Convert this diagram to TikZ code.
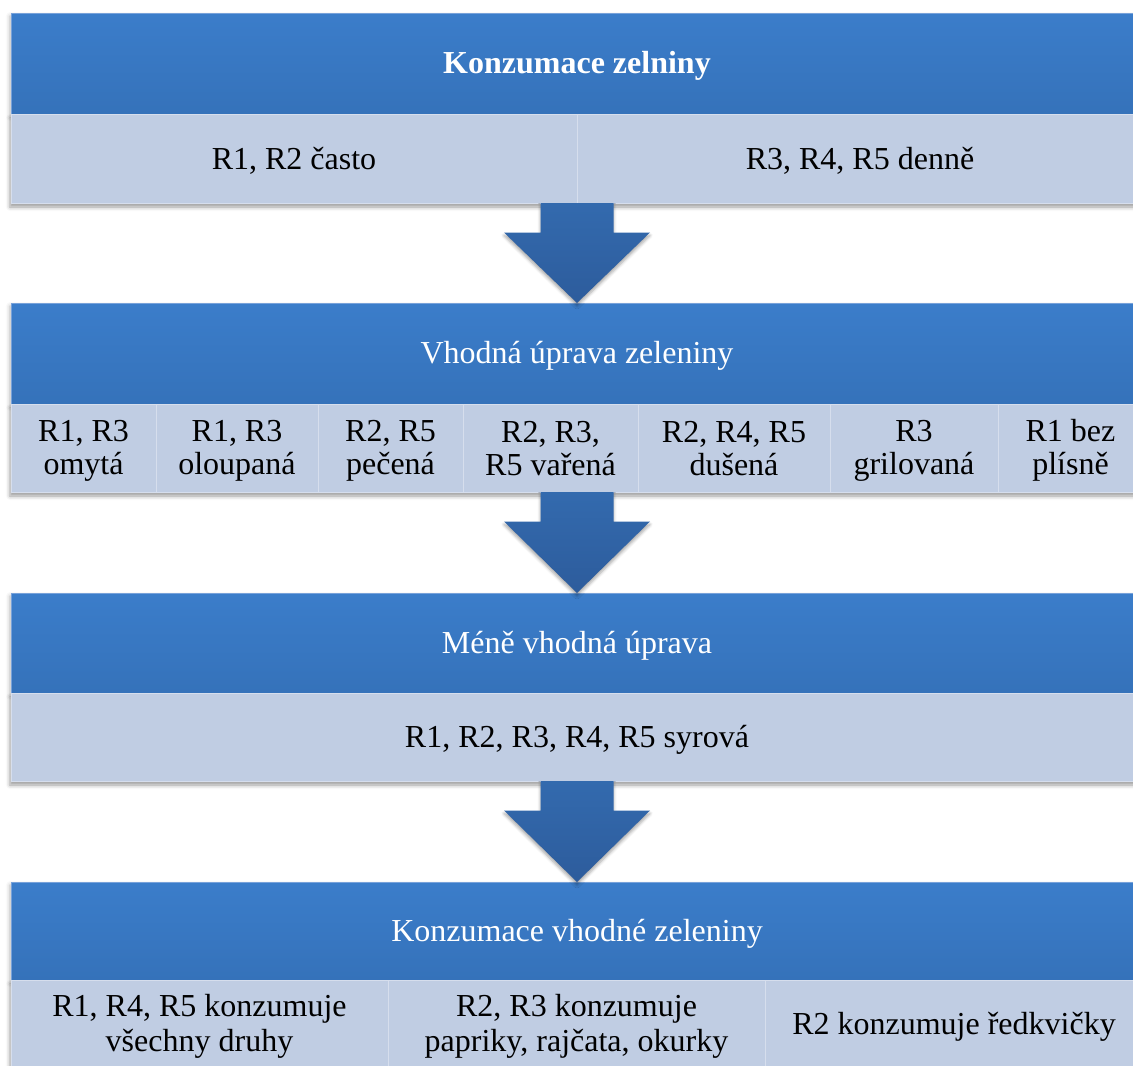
\documentclass[tikz,border=0pt]{standalone}
\usepackage{fontspec}
\setmainfont{Liberation Serif}
\usetikzlibrary{calc,shadows.blur}

\definecolor{hdrtop}{RGB}{59,125,202}
\definecolor{hdrbot}{RGB}{53,114,186}
\definecolor{hdredge}{RGB}{120,162,218}
\definecolor{rowfill}{RGB}{192,205,227}
\definecolor{celledge}{RGB}{214,222,237}
\definecolor{arrtop}{RGB}{51,106,174}
\definecolor{arrbot}{RGB}{45,92,156}

% uniform line box so every text line sits on the same grid
\newcommand\lnstrut{\rule[-5pt]{0pt}{32pt}}

% block arrow from the bottom of one row down to the top of the next header
\newcommand\flowarrow[2]{%
  \path[arrowshape] let \p1=(#1.south), \p2=(#2.north) in
    (\x1-36.5pt,\y1) -- (\x1+36.5pt,\y1) -- (\x1+36.5pt,\y1-29.5pt)
    -- (\x1+73pt,\y1-29.5pt) -- (\x2,\y2) -- (\x1-73pt,\y1-29.5pt)
    -- (\x1-36.5pt,\y1-29.5pt) -- cycle;}

\begin{document}
\begin{tikzpicture}[x=1pt,y=-1pt,
  txt/.style={font=\fontsize{32pt}{33pt}\selectfont, align=center},
  hdr/.style={txt, rectangle, anchor=north west, inner sep=0pt, outer sep=0pt,
    minimum width=1132pt, top color=hdrtop, bottom color=hdrbot,
    draw=hdredge, line width=0.6pt, text=white,
    blur shadow={shadow xshift=-1pt, shadow yshift=-3pt, shadow blur radius=4pt, shadow opacity=30}},
  rowbox/.style={rectangle, anchor=north west, inner sep=0pt, outer sep=0pt,
    minimum width=1132pt, fill=rowfill, draw=celledge, line width=0.8pt,
    blur shadow={shadow xshift=-1pt, shadow yshift=-4pt, shadow blur radius=4pt, shadow opacity=40}},
  cell/.style={txt, rectangle, anchor=north west, inner sep=0pt, outer sep=0pt,
    fill=rowfill, draw=celledge, line width=0.8pt, text=black},
  arrowshape/.style={top color=arrtop, bottom color=arrbot,
    blur shadow={shadow xshift=0pt, shadow yshift=-3pt, shadow blur radius=3pt, shadow opacity=35}}
]
\useasboundingbox (0,0) rectangle (1133,1066);
\clip (0,0) rectangle (1133,1066);

% block 1
\node[hdr, minimum height=101pt] (h1) at (11,13) {\lnstrut\textbf{Konzumace zelniny}};
\node[rowbox, minimum height=89pt] (r1) at (11,114) {};
\node[cell, minimum width=566pt, minimum height=89pt] (c11) at (11,114) {\lnstrut R1, R2 často};
\node[cell, minimum width=566pt, minimum height=89pt] (c12) at (577,114) {\lnstrut R3, R4, R5 denně};

% block 2
\node[hdr, minimum height=101pt] (h2) at (11,303) {\lnstrut Vhodná úprava zeleniny};
\node[rowbox, minimum height=88pt] (r2) at (11,404) {};
\node[cell, minimum width=145pt, minimum height=88pt] (c21) at (11,404) {\lnstrut R1, R3\\\lnstrut omytá};
\node[cell, minimum width=162pt, minimum height=88pt] (c22) at (156,404) {\lnstrut R1, R3\\\lnstrut oloupaná};
\node[cell, minimum width=145pt, minimum height=88pt] (c23) at (318,404) {\lnstrut R2, R5\\\lnstrut pečená};
\node[cell, minimum width=175pt, minimum height=88pt] (c24) at (463,404) {\lnstrut R2, R3,\\\lnstrut R5 vařená};
\node[cell, minimum width=192pt, minimum height=88pt] (c25) at (638,404) {\lnstrut R2, R4, R5\\\lnstrut dušená};
\node[cell, minimum width=168pt, minimum height=88pt] (c26) at (830,404) {\lnstrut R3\\\lnstrut grilovaná};
\node[cell, minimum width=145pt, minimum height=88pt] (c27) at (998,404) {\lnstrut R1 bez\\\lnstrut plísně};

% block 3
\node[hdr, minimum height=100pt] (h3) at (11,593) {\lnstrut Méně vhodná úprava};
\node[rowbox, minimum height=88pt] (r3) at (11,693) {};
\node[cell, minimum width=1132pt, minimum height=88pt] (c31) at (11,693) {\lnstrut R1, R2, R3, R4, R5 syrová};

% block 4
\node[hdr, minimum height=98pt] (h4) at (11,882) {\lnstrut Konzumace vhodné zeleniny};
\node[rowbox, minimum height=88pt] (r4) at (11,980) {};
\node[cell, minimum width=377pt, minimum height=88pt] (c41) at (11,980) {\lnstrut R1, R4, R5 konzumuje\\\lnstrut všechny druhy};
\node[cell, minimum width=377pt, minimum height=88pt] (c42) at (388,980) {\lnstrut R2, R3 konzumuje\\\lnstrut papriky, rajčata, okurky};
\node[cell, minimum width=378pt, minimum height=88pt] (c43) at (765,980) {\lnstrut R2 konzumuje ředkvičky};

% arrows between blocks
\flowarrow{r1}{h2}
\flowarrow{r2}{h3}
\flowarrow{r3}{h4}
\end{tikzpicture}
\end{document}
